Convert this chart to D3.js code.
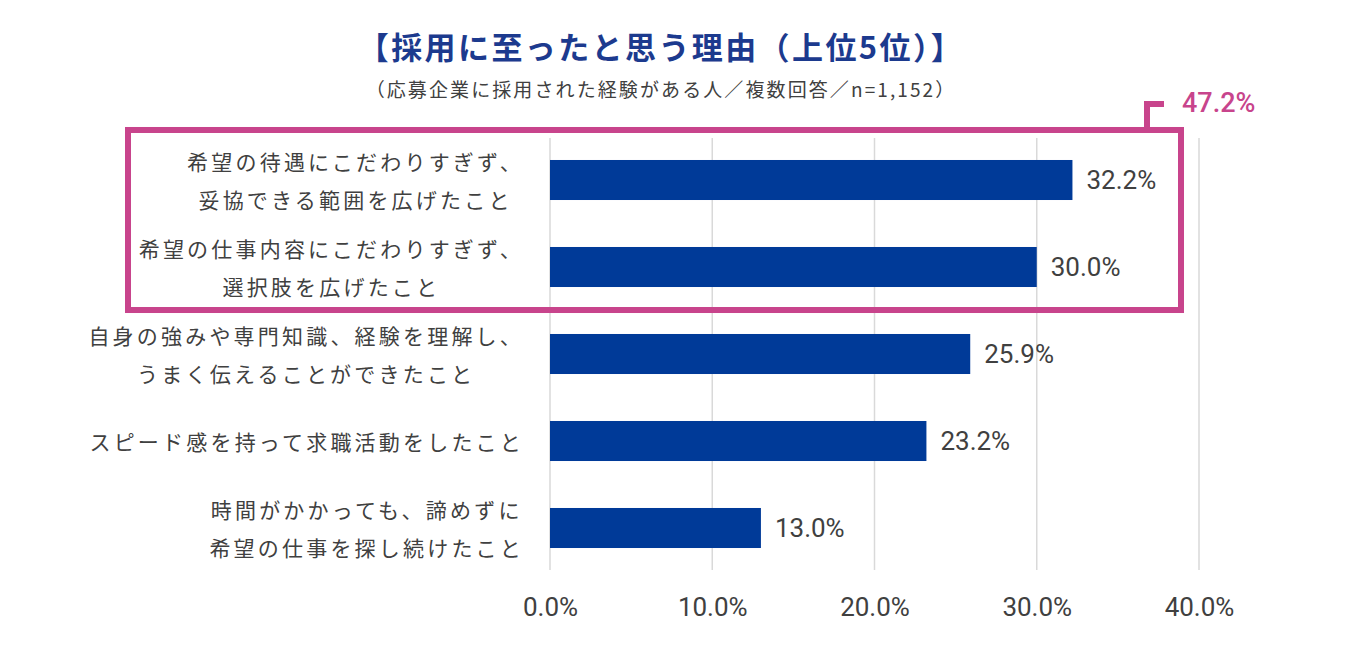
<!DOCTYPE html>
<html>
<head>
  <title>採用に至ったと思う理由</title>
  <meta charset="utf-8">
  <script src="https://cdn.jsdelivr.net/npm/d3@7/dist/d3.min.js"></script>
  <style>
    body {
      margin:0;
      background:white;
    }
    .jp {
      font-family:"Noto Sans CJK JP", sans-serif;
    }
    .num {
      font-family:"Liberation Sans Narrow", "Roboto", sans-serif;
    }
  </style>
</head>
<body>
  <div id="chart"></div>
  <script>
  var titleText = '【採用に至ったと思う理由（上位5位）】';
  var subtitleText = '（応募企業に採用された経験がある人／複数回答／n=1,152）';

  var categories = [
    ['希望の待遇にこだわりすぎず、', '妥協できる範囲を広げたこと'],
    ['希望の仕事内容にこだわりすぎず、', '選択肢を広げたこと'],
    ['自身の強みや専門知識、経験を理解し、', 'うまく伝えることができたこと'],
    ['スピード感を持って求職活動をしたこと'],
    ['時間がかかっても、諦めずに', '希望の仕事を探し続けたこと']
  ];
  var values = [32.2, 30.0, 25.9, 23.2, 13.0];
  var xTicks = [0, 10, 20, 30, 40];
  var highlighted = [0, 1];
  var highlightTotal = 47.2;

  var w = 1354;
  var h = 659;
  var blue = '#003a98';
  var pink = '#c8448c';
  var textColor = '#404040';

  var svg = d3.select('#chart').append('svg')
    .attr('width', w)
    .attr('height', h);

  var x = d3.scaleLinear().domain([0, 40]).range([550, 1199]);
  var y = d3.scaleBand()
    .domain(d3.range(values.length))
    .range([136.5, 571.5])
    .paddingInner(0.54)
    .paddingOuter(0.27);

  // title
  svg.append('text')
    .attr('class', 'jp')
    .attr('x', 661).attr('y', 45)
    .attr('text-anchor', 'middle')
    .attr('dominant-baseline', 'central')
    .attr('font-size', 31)
    .attr('font-weight', 'bold')
    .attr('letter-spacing', 2.4)
    .attr('fill', '#1c3a8e')
    .text(titleText);

  svg.append('text')
    .attr('class', 'jp')
    .attr('x', 661).attr('y', 88)
    .attr('text-anchor', 'middle')
    .attr('dominant-baseline', 'central')
    .attr('font-size', 19)
    .attr('letter-spacing', 2.1)
    .attr('fill', textColor)
    .text(subtitleText);

  // gridlines
  svg.selectAll('line.grid')
    .data(xTicks)
    .enter().append('line')
      .attr('class', 'grid')
      .attr('x1', function(d) { return x(d); })
      .attr('x2', function(d) { return x(d); })
      .attr('y1', 138)
      .attr('y2', 570)
      .attr('stroke', '#d9d9d9')
      .attr('stroke-width', 1.5);

  // bars
  svg.selectAll('rect.bar')
    .data(values)
    .enter().append('rect')
      .attr('class', 'bar')
      .attr('x', x(0))
      .attr('y', function(d, i) { return y(i); })
      .attr('width', function(d) { return x(d) - x(0); })
      .attr('height', y.bandwidth())
      .attr('fill', blue);

  // value labels
  svg.selectAll('text.val')
    .data(values)
    .enter().append('text')
      .attr('class', 'num val')
      .attr('x', function(d) { return x(d) + 14; })
      .attr('y', function(d, i) { return y(i) + y.bandwidth() / 2; })
      .attr('dominant-baseline', 'central')
      .attr('font-size', 26)
      .attr('fill', textColor)
      .text(function(d) { return d.toFixed(1) + '%'; });

  // category labels: lines centred on each other, block right-aligned
  var labelRight = 524;
  var lineGap = 38;
  var labels = svg.selectAll('g.cat')
    .data(categories)
    .enter().append('g')
      .attr('class', 'cat jp')
      .attr('font-size', 21)
      .attr('letter-spacing', 3.2)
      .attr('fill', textColor);

  labels.each(function(lines, i) {
    var g = d3.select(this);
    var cy = y(i) + y.bandwidth() / 2;
    var texts = g.selectAll('text')
      .data(lines)
      .enter().append('text')
        .attr('y', function(d, j) { return cy + (j - (lines.length - 1) / 2) * lineGap; })
        .attr('dominant-baseline', 'central')
        .attr('text-anchor', 'middle')
        .text(function(d) { return d; });
    var maxW = 0;
    texts.each(function() { maxW = Math.max(maxW, this.getComputedTextLength()); });
    texts.attr('x', labelRight - maxW / 2);
  });

  // x axis
  var axis = d3.axisBottom(x)
    .tickValues(xTicks)
    .tickSize(0)
    .tickFormat(function(d) { return d.toFixed(1) + '%'; });
  var ax = svg.append('g')
    .attr('transform', 'translate(0,607)')
    .call(axis);
  ax.select('.domain').remove();
  ax.selectAll('text')
    .attr('class', 'num')
    .attr('y', 0)
    .attr('dy', null)
    .attr('dominant-baseline', 'central')
    .attr('font-size', 26)
    .attr('fill', textColor);

  // highlight box around the top two reasons
  var boxTop = y(highlighted[0]) - 30;
  var boxBottom = y(highlighted[highlighted.length - 1]) + y.bandwidth() + 23;
  var boxLeft = 128;
  var boxRight = 1181;
  svg.append('rect')
    .attr('x', boxLeft)
    .attr('y', boxTop)
    .attr('width', boxRight - boxLeft)
    .attr('height', boxBottom - boxTop)
    .attr('fill', 'none')
    .attr('stroke', pink)
    .attr('stroke-width', 6);

  svg.append('path')
    .attr('d', 'M1147,' + boxTop + 'V104H1164M1144,104H1147')
    .attr('fill', 'none')
    .attr('stroke', pink)
    .attr('stroke-width', 6);

  svg.append('text')
    .attr('x', 1182)
    .attr('y', 103)
    .attr('dominant-baseline', 'central')
    .attr('font-family', 'Roboto, sans-serif')
    .attr('font-size', 27)
    .attr('font-weight', 500)
    .attr('fill', pink)
    .text(highlightTotal.toFixed(1) + '%');
  </script>
</body>
</html>
